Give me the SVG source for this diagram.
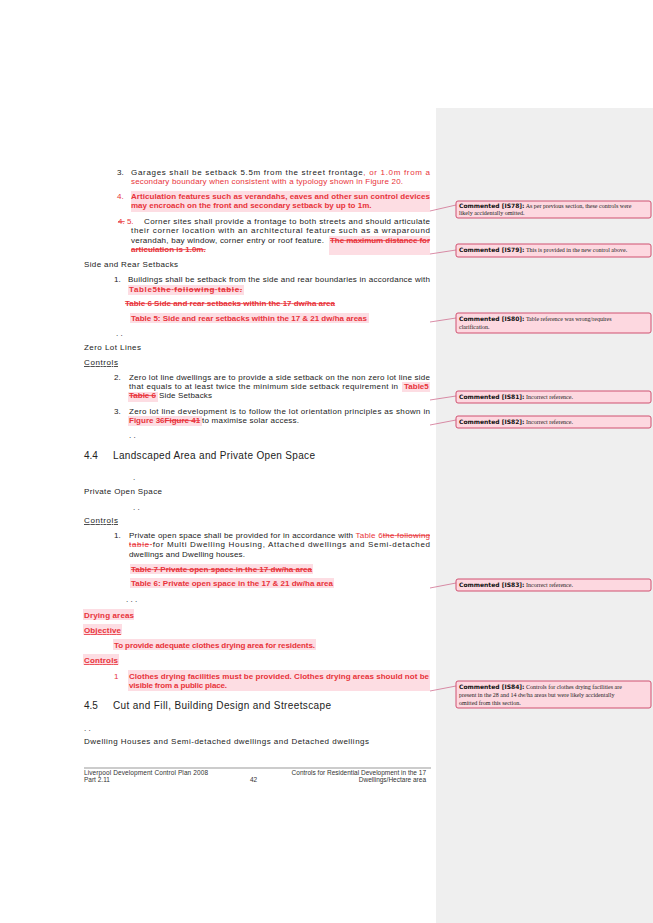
<svg xmlns="http://www.w3.org/2000/svg" width="653" height="923" viewBox="0 0 653 923">
<style>
.t{font-family:"Liberation Sans",Arial,sans-serif;font-size:8px;fill:#222}
.r{font-family:"Liberation Sans",Arial,sans-serif;font-size:8px;fill:#e8333a}
.b{font-weight:bold}
.del{text-decoration:line-through}
.u{text-decoration:underline}
.h{font-family:"Liberation Sans",Arial,sans-serif;font-size:10px;fill:#222}
.hl{fill:#fddde3}
.cb{fill:#fdd8e0;stroke:#d05070;stroke-width:1}
.cl{stroke:#d07090;stroke-width:0.8;fill:none}
.ct{font-family:"Liberation Serif",serif;font-size:6px;fill:#222}
.ck{font-family:"DejaVu Sans",sans-serif;font-size:6px;font-weight:bold;fill:#111}
.f{font-family:"Liberation Sans",Arial,sans-serif;font-size:6.5px;fill:#333}
</style>
<rect width="653" height="923" fill="#fff"/>
<rect x="436" y="108" width="217" height="815" fill="#efefef"/>
<g id="body">
<text class="t" x="117" y="175">3.</text>
<text class="t" x="131" y="175" textLength="299" lengthAdjust="spacing">Garages shall be setback 5.5m from the street frontage<tspan class="r">, or 1.0m from a</tspan></text>
<text class="r" x="131" y="184" textLength="272" lengthAdjust="spacing">secondary boundary when consistent with a typology shown in Figure 20.</text>
<rect class="hl" x="131" y="191" width="299" height="21"/>
<text class="r" x="117" y="199">4.</text>
<text class="r b" x="131" y="199" textLength="299" lengthAdjust="spacing">Articulation features such as verandahs, eaves and other sun control devices</text>
<text class="r b" x="131" y="208">may encroach on the front and secondary setback by up to 1m.</text>
<text class="r" x="118" y="224"><tspan class="del">4.</tspan> 5.</text>
<text class="t" x="144" y="224" textLength="286" lengthAdjust="spacing">Corner sites shall provide a frontage to both streets and should articulate</text>
<text class="t" x="131" y="233" textLength="299" lengthAdjust="spacing">their corner location with an architectural feature such as a wraparound</text>
<text class="t" x="131" y="243" textLength="193" lengthAdjust="spacing">verandah, bay window, corner entry or roof feature.</text>
<rect class="hl" x="329" y="236" width="101" height="19"/>
<text class="r b del" x="330" y="243" textLength="100" lengthAdjust="spacing">The maximum distance for</text>
<text class="r b del" x="131" y="252">articulation is 1.0m.</text>
<text class="t" x="84" y="267" textLength="94" lengthAdjust="spacing">Side and Rear Setbacks</text>
<text class="t" x="114" y="282">1.</text>
<text class="t" x="128" y="282" textLength="302" lengthAdjust="spacing">Buildings shall be setback from the side and rear boundaries in accordance with</text>
<rect class="hl" x="128" y="285" width="116" height="10"/>
<text class="r b" x="129" y="292" textLength="113" lengthAdjust="spacing">Table5<tspan class="del">the following table.</tspan></text>
<text class="r b del" x="125" y="306" textLength="210" lengthAdjust="spacing">Table 6 Side and rear setbacks within the 17 dw/ha area</text>
<rect class="hl" x="130" y="313" width="239" height="10"/>
<text class="r b" x="131" y="321" textLength="236" lengthAdjust="spacing">Table 5: Side and rear setbacks within the 17 &amp; 21 dw/ha areas</text>
<text class="t" x="116" y="336">. .</text>
<text class="t" x="84" y="350" textLength="57" lengthAdjust="spacing">Zero Lot Lines</text>
<text class="t u" x="84" y="365" textLength="34" lengthAdjust="spacing">Controls</text>
<text class="t" x="114" y="380">2.</text>
<text class="t" x="129" y="380" textLength="301" lengthAdjust="spacing">Zero lot line dwellings are to provide a side setback on the non zero lot line side</text>
<text class="t" x="129" y="389" textLength="269" lengthAdjust="spacing">that equals to at least twice the minimum side setback requirement in</text>
<rect class="hl" x="402" y="382" width="28" height="10"/>
<rect class="hl" x="128" y="392" width="30" height="10"/>
<text class="r b" x="404" y="389">Table5</text>
<text class="r b del" x="129" y="398">Table 6</text>
<text class="t" x="159" y="398" textLength="53" lengthAdjust="spacing">Side Setbacks</text>
<text class="t" x="114" y="414">3.</text>
<text class="t" x="129" y="414" textLength="301" lengthAdjust="spacing">Zero lot line development is to follow the lot orientation principles as shown in</text>
<rect class="hl" x="128" y="416" width="74" height="10"/>
<text class="r b" x="129" y="423">Figure 36<tspan class="del">Figure 41 </tspan></text>
<text class="t" x="202" y="423" textLength="97" lengthAdjust="spacing">to maximise solar access.</text>
<text class="t" x="129" y="438">. .</text>
<text class="h" x="84" y="459">4.4</text>
<text class="h" x="113" y="459" textLength="202" lengthAdjust="spacing">Landscaped Area and Private Open Space</text>
<text class="t" x="133" y="480">.</text>
<text class="t" x="84" y="494" textLength="78" lengthAdjust="spacing">Private Open Space</text>
<text class="t" x="133" y="510">. .</text>
<text class="t u" x="84" y="523" textLength="34" lengthAdjust="spacing">Controls</text>
<text class="t" x="114" y="538">1.</text>
<text class="t" x="129" y="538" textLength="301" lengthAdjust="spacing">Private open space shall be provided for in accordance with <tspan class="r">Table 6</tspan><tspan class="r del">the following</tspan></text>
<text class="t" x="129" y="547" textLength="301" lengthAdjust="spacing"><tspan class="r del">table </tspan> for Multi Dwelling Housing, Attached dwellings and Semi-detached</text>
<text class="t" x="129" y="557" textLength="116" lengthAdjust="spacing">dwellings and Dwelling houses.</text>
<rect class="hl" x="130" y="564" width="183" height="10"/>
<text class="r b del" x="131" y="572" textLength="181" lengthAdjust="spacing">Table 7 Private open space in the 17 dw/ha area</text>
<rect class="hl" x="130" y="578" width="204" height="10"/>
<text class="r b" x="131" y="586" textLength="202" lengthAdjust="spacing">Table 6: Private open space in the 17 &amp; 21 dw/ha area</text>
<text class="t" x="126" y="602">. . .</text>
<rect class="hl" x="83" y="609" width="51" height="11"/>
<text class="r b" x="84" y="618" textLength="50" lengthAdjust="spacing">Drying areas</text>
<rect class="hl" x="83" y="624" width="39" height="11"/>
<text class="r b u" x="84" y="633" textLength="37" lengthAdjust="spacing">Objective</text>
<rect class="hl" x="113" y="639" width="203" height="11"/>
<text class="r b" x="114" y="648" textLength="201" lengthAdjust="spacing">To provide adequate clothes drying area for residents.</text>
<rect class="hl" x="83" y="654" width="36" height="11"/>
<text class="r b u" x="84" y="663" textLength="34" lengthAdjust="spacing">Controls</text>
<text class="r" x="114" y="679">1</text>
<rect class="hl" x="128" y="670" width="302" height="21"/>
<text class="r b" x="129" y="679" textLength="300" lengthAdjust="spacing">Clothes drying facilities must be provided. Clothes drying areas should not be</text>
<text class="r b" x="129" y="688" textLength="98" lengthAdjust="spacing">visible from a public place.</text>
<text class="h" x="84" y="709">4.5</text>
<text class="h" x="113" y="709" textLength="218" lengthAdjust="spacing">Cut and Fill, Building Design and Streetscape</text>
<text class="t" x="84" y="731">. .</text>
<text class="t" x="84" y="744" textLength="285" lengthAdjust="spacing">Dwelling Houses and Semi-detached dwellings and Detached dwellings</text>
<line x1="84" y1="768" x2="431" y2="768" stroke="#555" stroke-width="0.6"/>
<text class="f" x="84" y="775" textLength="124" lengthAdjust="spacing">Liverpool Development Control Plan 2008</text>
<text class="f" x="84" y="782">Part 2.11</text>
<text class="f" x="250" y="782">42</text>
<text class="f" x="426" y="775" text-anchor="end">Controls for Residential Development in the 17</text>
<text class="f" x="426" y="782" text-anchor="end">Dwellings/Hectare area</text>
</g>
<g id="connectors">
<polyline class="cl" points="430,211 456,205"/>
<polyline class="cl" points="430,254 456,250"/>
<polyline class="cl" points="430,322 456,318"/>
<polyline class="cl" points="430,400 456,396"/>
<polyline class="cl" points="430,425 456,420"/>
<polyline class="cl" points="430,588 456,583"/>
<polyline class="cl" points="430,691 456,686"/>
</g>
<g id="c78"><rect class="cb" x="456" y="201" width="195" height="17" rx="2"/>
<text x="459" y="208"><tspan class="ck">Commented [IS78]:</tspan><tspan class="ct"> As per previous section, these controls were</tspan></text>
<text class="ct" x="459" y="215">likely accidentally omitted.</text></g>
<g id="c79"><rect class="cb" x="456" y="244" width="195" height="13" rx="2"/>
<text x="459" y="252"><tspan class="ck">Commented [IS79]:</tspan><tspan class="ct"> This is provided in the new control above.</tspan></text></g>
<g id="c80"><rect class="cb" x="456" y="313" width="195" height="20" rx="2"/>
<text x="459" y="321"><tspan class="ck">Commented [IS80]:</tspan><tspan class="ct"> Table reference was wrong/requires</tspan></text>
<text class="ct" x="459" y="329">clarification.</text></g>
<g id="c81"><rect class="cb" x="456" y="391" width="195" height="12" rx="2"/>
<text x="459" y="399"><tspan class="ck">Commented [IS81]:</tspan><tspan class="ct"> Incorrect reference.</tspan></text></g>
<g id="c82"><rect class="cb" x="456" y="416" width="195" height="12" rx="2"/>
<text x="459" y="424"><tspan class="ck">Commented [IS82]:</tspan><tspan class="ct"> Incorrect reference.</tspan></text></g>
<g id="c83"><rect class="cb" x="456" y="579" width="195" height="12" rx="2"/>
<text x="459" y="587"><tspan class="ck">Commented [IS83]:</tspan><tspan class="ct"> Incorrect reference.</tspan></text></g>
<g id="c84"><rect class="cb" x="456" y="681" width="195" height="27" rx="2"/>
<text x="459" y="689"><tspan class="ck">Commented [IS84]:</tspan><tspan class="ct"> Controls for clothes drying facilities are</tspan></text>
<text class="ct" x="459" y="697">present in the 28 and 14 dw/ha areas but were likely accidentally</text>
<text class="ct" x="459" y="705">omitted from this section.</text></g>
</svg>
